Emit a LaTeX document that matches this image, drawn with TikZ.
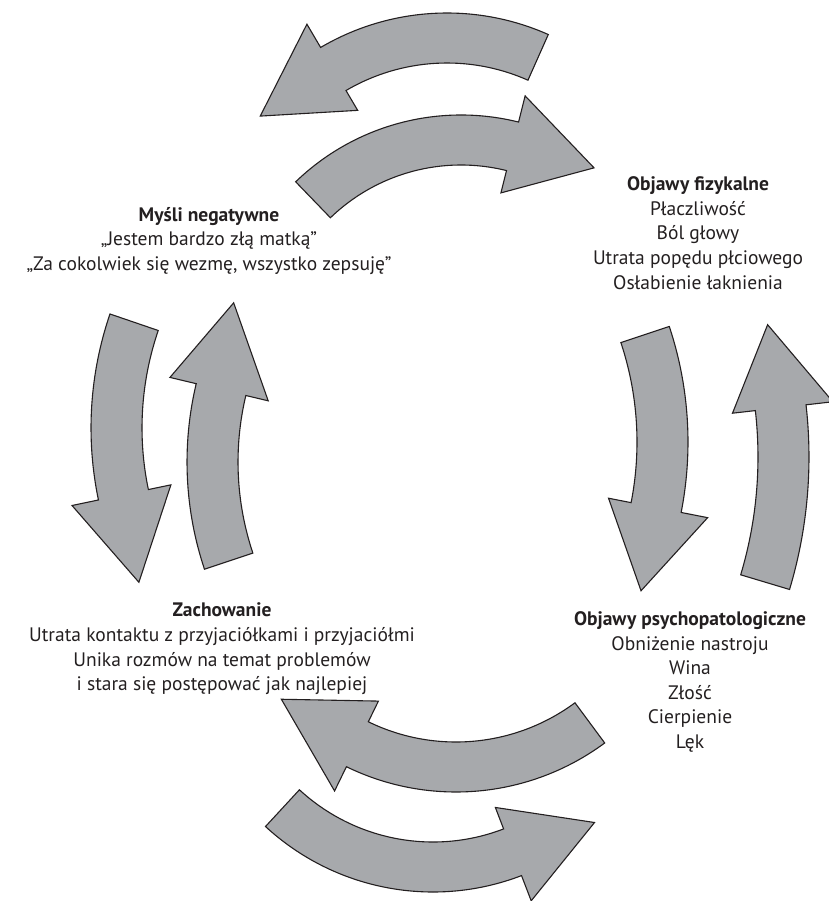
\documentclass[tikz,border=0pt]{standalone}
\usepackage{fontspec}
\setmainfont{PT Sans}
\usetikzlibrary{positioning}
\definecolor{arrowgray}{HTML}{A7A9AC}
\definecolor{inkblack}{HTML}{231F20}
\tikzset{
    cyclearrow/.style = {fill=arrowgray, draw=inkblack, line width=1.1pt, line join=miter},
    blocktext/.style = {align=center, inner sep=0pt, text=inkblack,
        font=\fontsize{19.5}{24.6}\selectfont}
}
% #1 centre, #2 inner radius, #3 outer radius, #4 tail angle,
% #5 head base angle, #6 tip angle, #7 tip radius
\newcommand{\bentarrow}[7]{%
  \begin{scope}[shift={#1}]
    \draw [cyclearrow] (#4:#3) arc [start angle=#4, end angle=#5, radius=#3]
      -- (#5:{#3+27}) -- (#6:#7) -- (#5:{#2-23}) -- (#5:#2)
      arc [start angle=#5, end angle=#4, radius=#2] -- cycle;
  \end{scope}}

\begin{document}
\begin{tikzpicture}[x=1pt, y=1pt]
  \useasboundingbox (0,0) rectangle (828,-901);

  % top pair
  \bentarrow{(447,-262)}{199}{249}{66}{120.5}{142}{237}
  \bentarrow{(461,-353)}{188}{238}{134}{76}{54.3}{228}
  % right pair
  \bentarrow{(322,-442)}{315}{366}{18.4}{-11.1}{-25}{352}
  \bentarrow{(348,-457)}{410}{461}{-16.7}{6.5}{17.5}{440}
  % bottom pair
  \bentarrow{(456,-542)}{200}{250}{306.5}{244}{222}{235}
  \bentarrow{(433,-645)}{197}{247}{227.3}{291}{312.3}{240}
  % left pair
  \bentarrow{(443,-428)}{301}{352}{161.1}{191.8}{206.9}{341}
  \bentarrow{(525,-462)}{287}{338}{198.5}{166.6}{151.35}{332}

  \node [blocktext] (thoughts) at (209,-241)
    {\textbf{Myśli negatywne}\\„Jestem bardzo złą matką”\\„Za cokolwiek się wezmę, wszystko zepsuję”};
  \node [blocktext] (physical) at (698,-233)
    {\textbf{Objawy fizykalne}\\Płaczliwość\\Ból głowy\\Utrata popędu płciowego\\Osłabienie łaknienia};
  \node [blocktext] (behaviour) at (222,-649)
    {\textbf{Zachowanie}\\Utrata kontaktu z przyjaciółkami i przyjaciółmi\\Unika rozmów na temat problemów\\i stara się postępować jak najlepiej};
  \node [blocktext] (psycho) at (690,-682)
    {\textbf{Objawy psychopatologiczne}\\Obniżenie nastroju\\Wina\\Złość\\Cierpienie\\Lęk};
\end{tikzpicture}
\end{document}
